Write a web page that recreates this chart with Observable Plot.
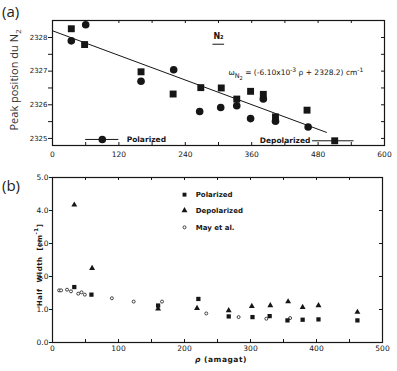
<!DOCTYPE html>
<html>
<head>
<meta charset="utf-8">
<script src="https://cdn.jsdelivr.net/npm/d3@7"></script>
<script src="https://cdn.jsdelivr.net/npm/@observablehq/plot@0.6"></script>
<style>
  body { margin: 0; background: #fff; }
  #wrap { position: relative; width: 397px; height: 371px; overflow: hidden; }
  .panel { position: absolute; left: 0; }
  .tag { position: absolute; left: 2px; font-family: "Open Sans", sans-serif; font-size: 15px; color: #222; line-height: 1; }
  .ytitle { position: absolute; white-space: nowrap; transform: translate(-50%, -50%) rotate(-90deg); line-height: 1; }
  .xtitle { position: absolute; white-space: nowrap; transform: translate(-50%, -50%); line-height: 1; }
</style>
</head>
<body>
<div id="wrap"></div>
<script>
// ---------- (a) N2 peak position vs density ----------
const polRhoA  = [34, 60, 160, 219, 266, 304, 333, 358, 381, 403, 462];
const polPeakA = [2327.90, 2328.38, 2326.70, 2327.04, 2325.80, 2325.92, 2325.97, 2325.59, 2326.17, 2325.51, 2325.34];
const depRhoA  = [34, 58, 160, 218, 268, 305, 333, 358, 381, 403, 460];
const depPeakA = [2328.26, 2327.79, 2326.98, 2326.32, 2326.51, 2326.50, 2326.17, 2326.40, 2326.31, 2325.64, 2325.84];
// linear fit quoted on the chart: w = -6.10e-3 * rho + 2328.2
const fitSlope = -6.10e-3;
const fitIntercept = 2328.2;
const fitRho = [0, 495];
const xTicksA = [0, 60, 120, 180, 240, 300, 360, 420, 480, 540, 600];
const xLabelsA = [0, 120, 240, 360, 480, 600];
const yTicksA = [2325, 2325.5, 2326, 2326.5, 2327, 2327.5, 2328];
const yRightTicksA = [2325, 2325.5, 2326, 2326.5, 2327, 2327.5, 2328];

// ---------- (b) half width vs density ----------
const polRhoB   = [33, 59, 160, 221, 267, 303, 329, 356, 379, 403, 462];
const polWidthB = [1.68, 1.45, 1.12, 1.32, 0.79, 0.77, 0.80, 0.67, 0.69, 0.70, 0.67];
const depRhoB   = [33, 60, 160, 219, 267, 302, 330, 357, 379, 403, 462];
const depWidthB = [4.17, 2.25, 1.02, 1.04, 0.97, 1.10, 1.12, 1.24, 1.07, 1.12, 0.92];
const mayRhoB   = [10, 13, 22, 28, 39, 44, 49, 90, 123, 166, 233, 282, 324, 360];
const mayWidthB = [1.58, 1.58, 1.60, 1.55, 1.48, 1.52, 1.45, 1.34, 1.24, 1.24, 0.88, 0.77, 0.72, 0.74];
const xTicksB = [0, 50, 100, 150, 200, 250, 300, 350, 400, 450, 500];
const xLabelsB = [0, 100, 200, 300, 400, 500];
const yTicksB = [0, 1, 2, 3, 4, 5];

const ink = "#161616";
const oldFont = "'DejaVu Sans', sans-serif";
const wrap = document.getElementById("wrap");

function zip(xs, ys) { return xs.map((x, i) => ({x, y: ys[i]})); }

// inward tick helpers (plot frame size passed in pixels)
function bottomTicks(values, len, plotH) {
  return Plot.tickX(values, {x: d => d, insetTop: plotH - len, stroke: ink, strokeWidth: 1});
}
function topTicks(values, len, plotH) {
  return Plot.tickX(values, {x: d => d, insetBottom: plotH - len, stroke: ink, strokeWidth: 1});
}
function rightTicks(values, len, plotW) {
  return Plot.tickY(values, {y: d => d, insetLeft: plotW - len, stroke: ink, strokeWidth: 1});
}

// ---------------- panel (a) ----------------
const A = {w: 397, h: 165, ml: 52, mr: 13, mt: 20, mb: 20};
const plotWA = A.w - A.ml - A.mr, plotHA = A.h - A.mt - A.mb;
const fitLine = fitRho.map(r => ({x: r, y: fitSlope * r + fitIntercept}));

// legend layout, in data units
const legA = {
  pol: {y: 2324.97, line: [60, 120], marker: 90, text: 134},
  dep: {y: 2324.93, line: [470, 545], marker: 510, text: 466}
};
const n2Label = {x: 300, y: 2328.02, under: 2327.80, underFrom: 290, underTo: 311};
const eqPos = {x: 318, y: 2326.97};
const eqParts = [
  {t: "ω"}, {t: "N", shift: 3, size: 6.5}, {t: "2", shift: 5, size: 5},
  {t: " = (-6.10x10", shift: 0}, {t: "-3", shift: -3, size: 6}, {t: " ρ + 2328.2) cm", shift: 0}, {t: "-1", shift: -3, size: 6}
];
const eqText = eqParts.map(p => p.t).join("");

const plotA = Plot.plot({
  width: A.w, height: A.h,
  marginLeft: A.ml, marginRight: A.mr, marginTop: A.mt, marginBottom: A.mb,
  x: {domain: [0, 600]},
  y: {domain: [2324.79, 2328.505]},
  style: {fontFamily: oldFont, fontSize: "7px", color: ink, background: "transparent"},
  marks: [
    Plot.frame({stroke: ink, strokeWidth: 1.2}),
    Plot.axisX({ticks: xLabelsA, tickSize: 0, tickPadding: 6, label: null, fontSize: 7.5, letterSpacing: "1px", fill: ink}),
    Plot.axisY({ticks: yTicksA, tickSize: 4, tickPadding: 1, label: null,
      tickFormat: d => Number.isInteger(d) ? String(d) : "", fontSize: 7, letterSpacing: "0.3px", fill: ink}),
    bottomTicks(xTicksA, 3, plotHA),
    topTicks(xTicksA, 3, plotHA),
    rightTicks(yRightTicksA, 3, plotWA),
    Plot.line(fitLine, {x: "x", y: "y", stroke: ink, strokeWidth: 1}),
    Plot.dot(zip(polRhoA, polPeakA), {x: "x", y: "y", r: 3.8, fill: ink, stroke: "none"}),
    Plot.dot(zip(depRhoA, depPeakA), {x: "x", y: "y", r: 3.9, symbol: "square", fill: ink, stroke: "none"}),
    // legend
    Plot.ruleY([legA.pol.y], {x1: legA.pol.line[0], x2: legA.pol.line[1], stroke: ink, strokeWidth: 1}),
    Plot.dot([legA.pol], {x: "marker", y: "y", r: 3.8, fill: ink, stroke: "none"}),
    Plot.text([legA.pol], {x: "text", y: "y", text: () => "Polarized", textAnchor: "start", fontSize: 7.5, fontWeight: 600, letterSpacing: "0.6px", fill: ink}),
    Plot.ruleY([legA.dep.y], {x1: legA.dep.line[0], x2: legA.dep.line[1], stroke: ink, strokeWidth: 1}),
    Plot.dot([legA.dep], {x: "marker", y: "y", r: 3.9, symbol: "square", fill: ink, stroke: "none"}),
    Plot.text([legA.dep], {x: "text", y: "y", text: () => "Depolarized", textAnchor: "end", fontSize: 7.5, fontWeight: 600, letterSpacing: "0.4px", fill: ink}),
    // N2 label
    Plot.text([n2Label], {x: "x", y: "y", text: () => "N₂", fontSize: 8, fontWeight: 600, fill: ink}),
    Plot.ruleY([n2Label.under], {x1: n2Label.underFrom, x2: n2Label.underTo, stroke: ink, strokeWidth: 1}),
    // fit equation
    Plot.text([eqPos], {x: "x", y: "y", text: () => eqText, textAnchor: "start", fontSize: 7.5, fill: ink, letterSpacing: "0.2px"})
  ]
});
plotA.classList.add("panel");
plotA.style.top = "0px";
wrap.appendChild(plotA);

// split the equation into sub/superscripts
d3.select(plotA).selectAll("text").filter(function () { return this.textContent === eqText; })
  .each(function () {
    const el = d3.select(this);
    el.text(null);
    let cur = 0;
    for (const p of eqParts) {
      const target = p.shift || 0;
      const ts = el.append("tspan").attr("dy", target - cur).text(p.t);
      if (p.size) ts.attr("font-size", p.size);
      cur = target;
    }
  });

// ---------------- panel (b) ----------------
const B = {top: 165, w: 397, h: 206, ml: 52, mr: 15, mt: 12, mb: 29};
const plotWB = B.w - B.ml - B.mr, plotHB = B.h - B.mt - B.mb;
const legB = [
  {label: "Polarized", y: 4.48, symbol: "square"},
  {label: "Depolarized", y: 4.00, symbol: "triangle"},
  {label: "May et al.", y: 3.49, symbol: "circle"}
];
const legBMarkerX = 200, legBTextX = 217;

const plotB = Plot.plot({
  width: B.w, height: B.h,
  marginLeft: B.ml, marginRight: B.mr, marginTop: B.mt, marginBottom: B.mb,
  x: {domain: [0, 500]},
  y: {domain: [0, 5]},
  style: {fontFamily: oldFont, fontSize: "7px", color: ink, background: "transparent"},
  marks: [
    Plot.frame({stroke: ink, strokeWidth: 1.2}),
    Plot.axisX({ticks: xLabelsB, tickSize: 0, tickPadding: 3, label: null, fontSize: 7.5, letterSpacing: "0.8px", fill: ink}),
    Plot.axisY({ticks: yTicksB, tickSize: 3, tickPadding: 1, label: null, fontSize: 7.5, fill: ink}),
    bottomTicks(xTicksB, 3, plotHB),
    topTicks(xTicksB, 3, plotHB),
    rightTicks(yTicksB, 3, plotWB),
    Plot.dot(zip(mayRhoB, mayWidthB), {x: "x", y: "y", r: 1.5, fill: "white", stroke: ink, strokeWidth: 0.8}),
    Plot.dot(zip(polRhoB, polWidthB), {x: "x", y: "y", r: 2.4, symbol: "square", fill: ink, stroke: "none"}),
    Plot.dot(zip(depRhoB, depWidthB), {x: "x", y: "y", r: 2.2, symbol: "triangle", fill: ink, stroke: "none"}),
    // legend
    Plot.dot(legB.filter(d => d.symbol !== "circle"), {x: () => legBMarkerX, y: "y", symbol: "symbol", r: 2.2, fill: ink, stroke: "none"}),
    Plot.dot(legB.filter(d => d.symbol === "circle"), {x: () => legBMarkerX, y: "y", r: 1.5, fill: "white", stroke: ink, strokeWidth: 0.8}),
    Plot.text(legB, {x: () => legBTextX, y: "y", text: "label", textAnchor: "start", fontSize: 7, fontWeight: 600, letterSpacing: "0.4px", fill: ink})
  ]
});
plotB.classList.add("panel");
plotB.style.top = B.top + "px";
wrap.appendChild(plotB);

// ---------------- titles and panel tags ----------------
function addDiv(cls, text, style) {
  const d = document.createElement("div");
  d.className = cls;
  d.innerHTML = text;
  Object.assign(d.style, style);
  wrap.appendChild(d);
}
addDiv("tag", "(a)", {top: "4px"});
addDiv("tag", "(b)", {top: "178px"});
addDiv("ytitle", "Peak position du N<sub style='font-size:8px'>2</sub>",
  {left: "15px", top: "80px", fontFamily: "'Open Sans', sans-serif", fontSize: "11px", color: "#333"});
addDiv("ytitle", "Half&nbsp; Width&nbsp; [cm<sup style='font-size:5.5px'>-1</sup>]",
  {left: "39px", top: "265px", fontFamily: oldFont, fontSize: "7px", fontWeight: "600", letterSpacing: "0.5px", color: ink});
addDiv("xtitle", "<i>ρ</i> (amagat)",
  {left: "221px", top: "360px", fontFamily: oldFont, fontSize: "7.5px", fontWeight: "600", letterSpacing: "0.5px", color: ink});
</script>
</body>
</html>
